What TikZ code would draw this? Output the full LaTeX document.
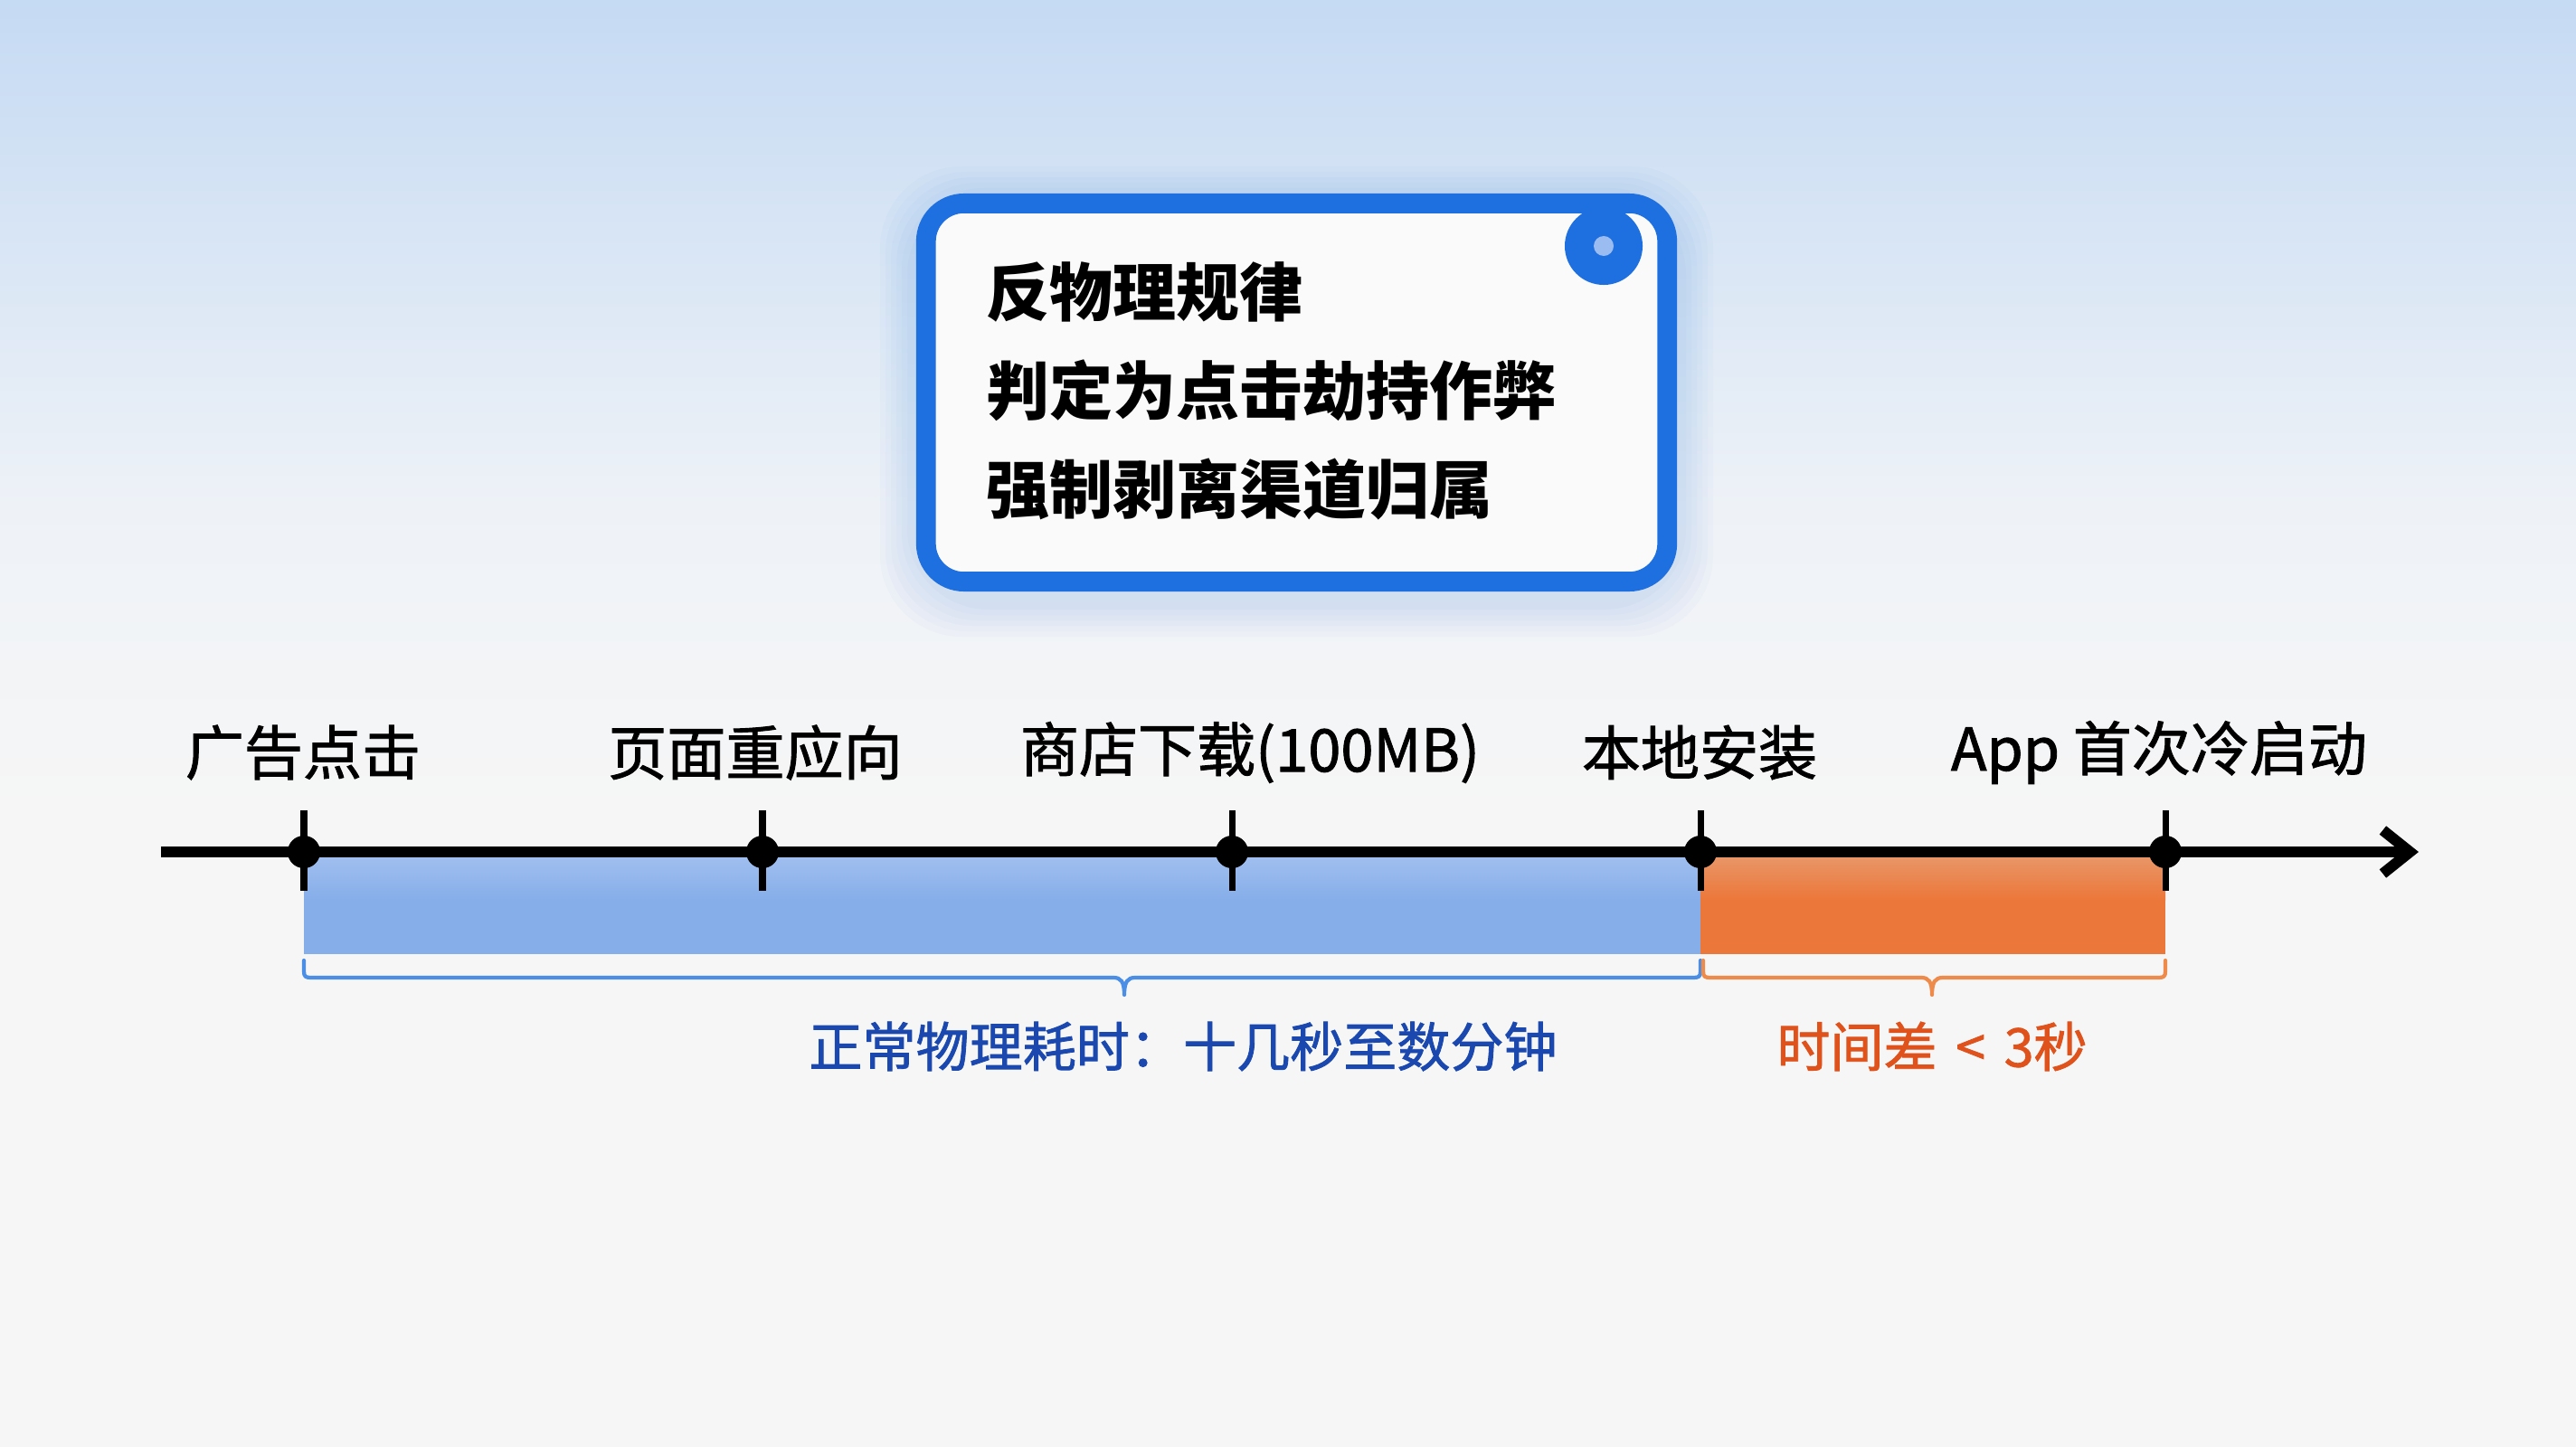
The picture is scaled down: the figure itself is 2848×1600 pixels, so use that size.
\documentclass[tikz,border=0pt]{standalone}
\usepackage{fontspec}
\setmainfont{Noto Sans CJK SC}
\newfontfamily\cjkmed{Noto Sans CJK SC}[FakeBold=1.4]
\usetikzlibrary{arrows.meta}
\definecolor{bgtop}{HTML}{C5DAF3}
\definecolor{bgmid}{HTML}{EEF2F7}
\definecolor{bgbot}{HTML}{F6F6F6}
\definecolor{boxblue}{HTML}{1E6FE0}
\definecolor{boxfill}{HTML}{FAFAFB}
\definecolor{pinlight}{HTML}{9BBCF0}
\definecolor{barblue}{HTML}{86AEE9}
\definecolor{barbluetop}{HTML}{A3C0F0}
\definecolor{barorange}{HTML}{EC773A}
\definecolor{barorangetop}{HTML}{E8996C}
\definecolor{braceblue}{HTML}{4A8EE6}
\definecolor{braceorange}{HTML}{EE8A4A}
\definecolor{txtblue}{HTML}{1A48AE}
\definecolor{txtorange}{HTML}{E0521C}
\tikzset{
  evdot/.style={circle, fill=black, minimum size=0.36cm, inner sep=0pt},
  tickline/.style={line width=2pt},
  timeline/.style={line width=3.4pt, -{Straight Barb[length=0.3cm,width=0.48cm]}},
  evlabel/.style={font=\cjkmed\fontsize{18.5}{22}\selectfont, text=black, inner sep=0pt},
  spanlabel/.style={font=\cjkmed\fontsize{16.8}{20}\selectfont, inner sep=0pt},
  bracestyle/.style={line width=1.2pt, line cap=round, line join=round},
}
\begin{document}
\begin{tikzpicture}[x=0.01cm,y=-0.01cm]
\useasboundingbox (0,0) rectangle (2848,1600);
% background
\fill[bgbot] (0,0) rectangle (2848,1600);
\shade[top color=bgtop, bottom color=bgmid] (0,0) rectangle (2848,560);
\shade[top color=bgmid, bottom color=bgbot] (0,559) rectangle (2848,900);
% box glow
\foreach \r in {40,34,28,22,16,10}{
  \fill[boxblue, opacity=0.025, rounded corners=0.9cm] (1013-\r,214-\r+10) rectangle (1854+\r,654+\r+10);
}
% box
\node (box) [draw=boxblue, fill=boxfill, line width=6.2pt, rounded corners=0.42cm,
  minimum width=8.19cm, minimum height=4.18cm, inner sep=0pt] at (1433.5,434) {};
\node (pin) [circle, fill=boxblue, minimum size=0.86cm, inner sep=0pt] at (1773,272) {};
\node (pinc) [circle, fill=pinlight, minimum size=0.22cm, inner sep=0pt] at (pin) {};
\node (boxtext) [anchor=west, align=left, inner sep=0pt,
  font=\bfseries\fontsize{19.9}{31}\selectfont] at (1090,432)
  {反物理规律\\判定为点击劫持作弊\\强制剥离渠道归属};
% bars
\fill[barblue] (336,942) rectangle (1880,1055);
\shade[top color=barbluetop, bottom color=barblue] (336,942) rectangle (1880,995);
\fill[barorange] (1880,942) rectangle (2394,1055);
\shade[top color=barorangetop, bottom color=barorange] (1880,942) rectangle (2394,995);
% timeline
\coordinate (tstart) at (178,942);
\coordinate (tend) at (2674,942);
\draw[timeline] (tstart) -- (tend);
\foreach \n/\x in {e1/336,e2/843,e3/1362,e4/1880,e5/2394}{
  \node (\n) [evdot] at (\x,942) {};
  \draw[tickline] (\n) ++(0,-46) -- ++(0,89);
}
% event labels
\node (l1) [evlabel] at (335,832) {广告点击};
\node (l2) [evlabel] at (835,832) {页面重应向};
\node (l3) [evlabel] at (1382,832) {商店下载(100MB)};
\node (l4) [evlabel] at (1879,832) {本地安装};
\node (l5) [evlabel] at (2387,832) {App 首次冷启动};
% braces
\draw[bracestyle, braceblue] (336,1062) -- (336,1074) .. controls (336,1080) and (338,1081) .. (344,1081)
  -- (1231,1081) .. controls (1239,1081) and (1243,1085) .. (1243,1100)
  .. controls (1243,1085) and (1247,1081) .. (1255,1081)
  -- (1872,1081) .. controls (1878,1081) and (1880,1080) .. (1880,1074) -- (1880,1062);
\draw[bracestyle, braceorange] (1883,1062) -- (1883,1074) .. controls (1883,1080) and (1885,1081) .. (1891,1081)
  -- (2124,1081) .. controls (2132,1081) and (2136,1085) .. (2136,1100)
  .. controls (2136,1085) and (2140,1081) .. (2148,1081)
  -- (2386,1081) .. controls (2392,1081) and (2394,1080) .. (2394,1074) -- (2394,1062);
% span labels
\node (s1) [spanlabel, text=txtblue] at (1308,1157) {正常物理耗时：十几秒至数分钟};
\node (s2) [spanlabel, text=txtorange] at (2136,1157) {时间差\hspace{0.35em}<\hspace{0.35em}3秒};
\end{tikzpicture}
\end{document}
